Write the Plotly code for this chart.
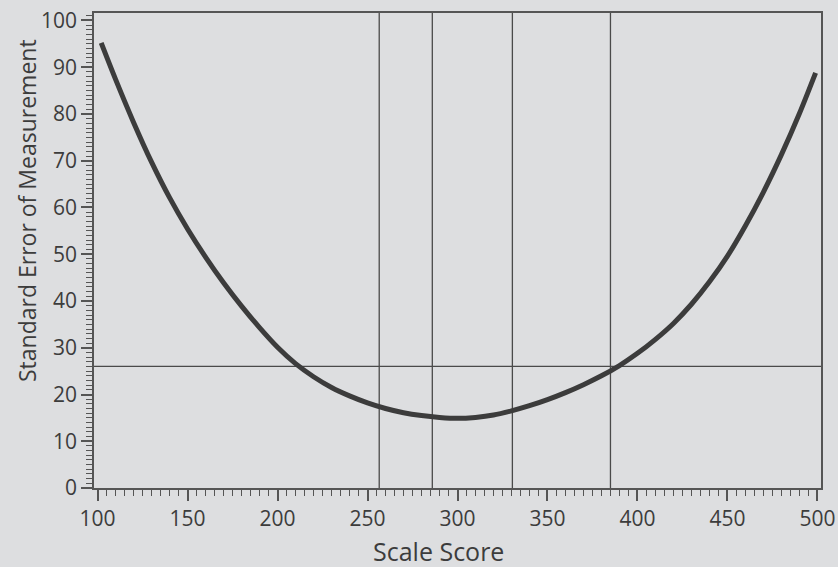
import plotly.graph_objects as go

# Curve: scale score vs standard error of measurement
scale_score = [102, 110, 120, 130, 140, 150, 160, 170, 180, 190, 200, 210, 220, 230, 240,
               250, 260, 270, 280, 290, 300, 310, 320, 330, 340, 350, 360, 370, 380, 390,
               400, 410, 420, 430, 440, 450, 460, 470, 480, 490, 499]
sem = [95.2, 87.4, 78.2, 69.7, 62.1, 55.4, 49.4, 43.9, 38.9, 34.3, 30.1, 26.6, 23.8, 21.5, 19.7,
       18.2, 17.0, 16.1, 15.5, 15.1, 14.9, 15.1, 15.6, 16.5, 17.6, 18.9, 20.4, 22.1, 24.0, 26.2,
       28.8, 31.8, 35.2, 39.3, 44.1, 49.6, 56.1, 63.3, 71.3, 80.1, 88.8]

# Reference lines
cut_scores = [256.5, 286, 330.5, 385]
sem_threshold = 26

x_ticks = [100, 150, 200, 250, 300, 350, 400, 450, 500]
y_ticks = [0, 10, 20, 30, 40, 50, 60, 70, 80, 90, 100]

BG = "#dddee0"
INK = "#3c3c3c"
FONT = "Open Sans"

fig = go.Figure()
fig.add_trace(go.Scatter(x=scale_score, y=sem, mode="lines",
                         line=dict(color=INK, width=5, shape="spline", smoothing=0.8),
                         hoverinfo="skip", showlegend=False))

for c in cut_scores:
    fig.add_shape(type="line", xref="x", yref="paper", x0=c, x1=c, y0=0, y1=1,
                  line=dict(color="#4a4a4a", width=1.3), layer="below")
fig.add_shape(type="line", xref="paper", yref="y", x0=0, x1=1, y0=sem_threshold, y1=sem_threshold,
              line=dict(color="#4a4a4a", width=1.3), layer="below")

fig.update_layout(
    width=838, height=567,
    paper_bgcolor=BG, plot_bgcolor=BG,
    margin=dict(l=94, r=17, t=13, b=79, autoexpand=False),
    font=dict(family=FONT, color=INK, size=20),
    showlegend=False,
    annotations=[
        dict(text="Scale Score", xref="paper", yref="paper", x=(438 - 94) / 727, y=-(532 - 488) / 475,
             xanchor="center", yanchor="top", showarrow=False,
             font=dict(family=FONT, size=25, color=INK)),
        dict(text="Standard Error of Measurement", xref="paper", yref="paper",
             x=(27 - 94) / 727, y=(488 - 211) / 475, textangle=-90,
             xanchor="center", yanchor="middle", showarrow=False,
             font=dict(family=FONT, size=23, color=INK)),
    ],
)

fig.update_xaxes(range=[98, 502], tickvals=x_ticks, ticks="outside", ticklen=11, tickwidth=1.5,
                 tickcolor="#555", showline=True, linecolor="#555", linewidth=1.5, mirror=True,
                 showgrid=False, zeroline=False, automargin=False,
                 minor=dict(dtick=5, tick0=100, ticks="outside", ticklen=6, tickwidth=1, tickcolor="#555",
                            showgrid=False),
                 tickfont=dict(family=FONT, size=21, color=INK))
fig.update_yaxes(range=[0, 101.6], tickvals=y_ticks, ticks="outside", ticklen=11, tickwidth=1.5,
                 tickcolor="#555", showline=True, linecolor="#555", linewidth=1.5, mirror=True,
                 showgrid=False, zeroline=False, automargin=False,
                 minor=dict(dtick=1, tick0=0, ticks="outside", ticklen=6, tickwidth=1, tickcolor="#555",
                            showgrid=False),
                 tickfont=dict(family=FONT, size=21, color=INK))

fig.write_html("out.html", config={"displayModeBar": False},
               post_script="document.body.style.margin='0';document.body.style.padding='0';"
                           "document.body.style.background='" + BG + "';")
